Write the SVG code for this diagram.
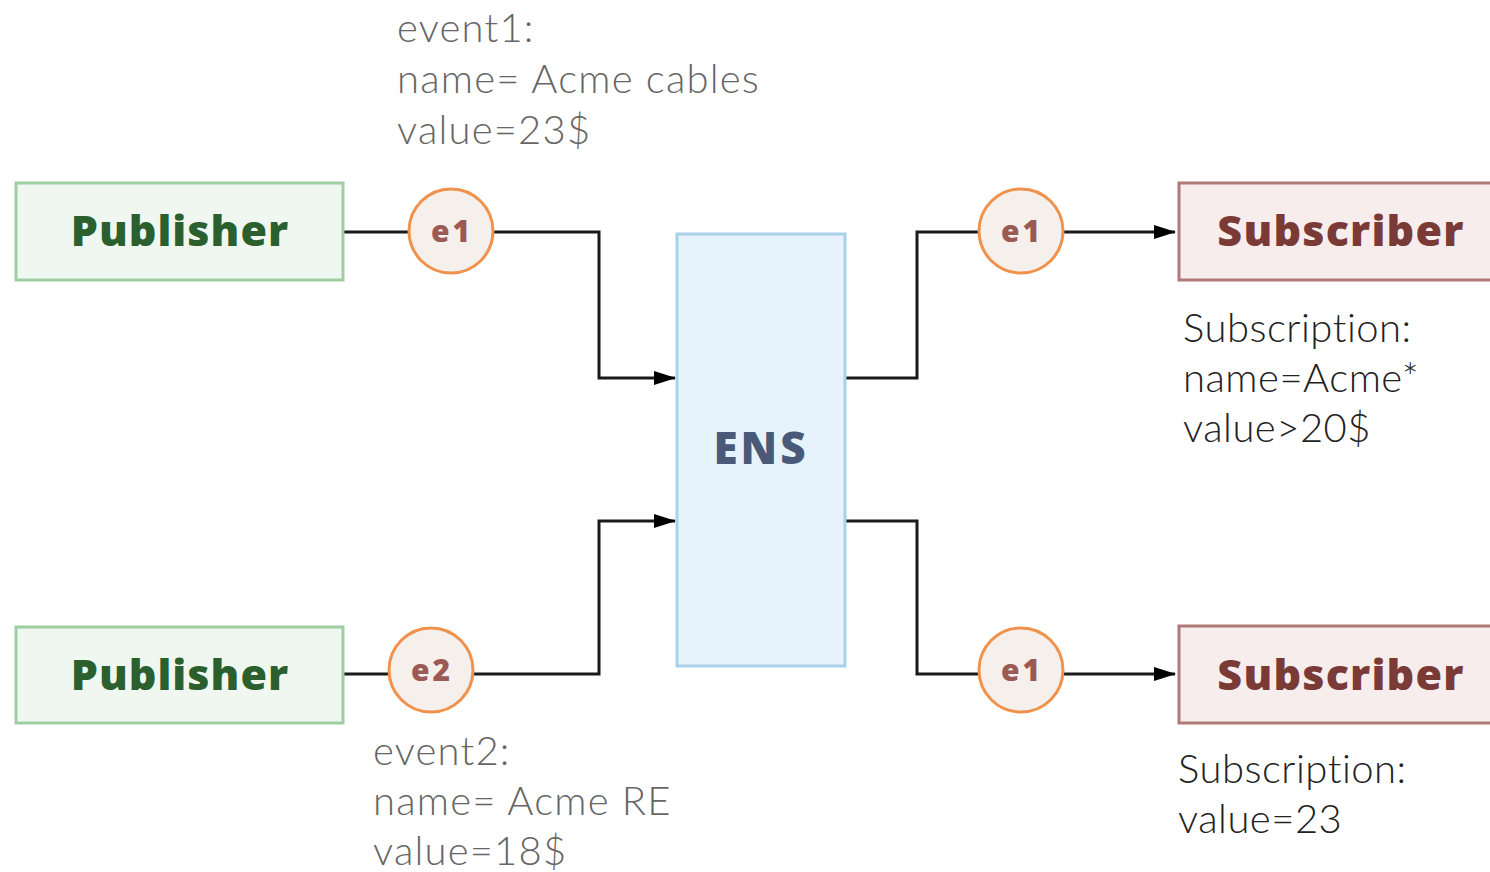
<svg xmlns="http://www.w3.org/2000/svg" width="1490" height="872" viewBox="0 0 1490 872">
<defs>
<marker id="arr" markerWidth="22" markerHeight="16" refX="21" refY="8" orient="auto" markerUnits="userSpaceOnUse">
<path d="M0,1 L22,8 L0,15 z" fill="#000"/>
</marker>
<style>
.pub rect{fill:#eff7f0;stroke:#9fcea3;stroke-width:3}
.pub text{font-family:"Open Sans","Liberation Sans",sans-serif;font-weight:800;font-size:43px;letter-spacing:1px;fill:#2c5f2e;text-anchor:middle}
.sub rect{fill:#f7eded;stroke:#b07a78;stroke-width:3}
.sub text{font-family:"Open Sans","Liberation Sans",sans-serif;font-weight:800;font-size:43px;letter-spacing:1.2px;fill:#7a3b37;text-anchor:middle}
.ev circle{fill:#f6f0ec;stroke:#f0924c;stroke-width:3}
.ev text{font-family:"Open Sans","Liberation Sans",sans-serif;font-weight:800;font-size:30px;letter-spacing:3px;fill:#9c5a55;text-anchor:middle}
.ens rect{fill:#e6f3fc;stroke:#a9d2e8;stroke-width:3}
.ens text{font-family:"Open Sans","Liberation Sans",sans-serif;font-weight:800;font-size:44px;letter-spacing:3px;fill:#485a78;text-anchor:middle}
.conn path{fill:none;stroke:#1a1a1a;stroke-width:3}
.note{font-family:"Lato","Open Sans","Liberation Sans",sans-serif;font-weight:300;font-size:40px}
.grey{fill:#666;letter-spacing:1.2px}
.dark{fill:#222;letter-spacing:0.5px}
</style>
</defs>
<rect width="1490" height="872" fill="#fff"/>
<g id="connectors" class="conn">
<path d="M343,232 H599 V378 H675" marker-end="url(#arr)"/>
<path d="M343,674 H599 V521 H675" marker-end="url(#arr)"/>
<path d="M845,378 H917 V232 H1175" marker-end="url(#arr)"/>
<path d="M845,521 H917 V674 H1175" marker-end="url(#arr)"/>
</g>
<g id="publisher1" class="pub"><rect x="16" y="183" width="327" height="97"/><text x="180" y="246">Publisher</text></g>
<g id="publisher2" class="pub"><rect x="16" y="627" width="327" height="96"/><text x="180" y="690">Publisher</text></g>
<g id="ens" class="ens"><rect x="677" y="234" width="168" height="432"/><text x="761" y="464">ENS</text></g>
<g id="subscriber1" class="sub"><rect x="1179" y="183" width="320" height="97"/><text x="1341" y="246">Subscriber</text></g>
<g id="subscriber2" class="sub"><rect x="1179" y="626" width="320" height="97"/><text x="1341" y="690">Subscriber</text></g>
<g id="e1a" class="ev"><circle cx="451" cy="231" r="42"/><text x="452" y="242">e1</text></g>
<g id="e2" class="ev"><circle cx="431" cy="670" r="42"/><text x="432" y="681">e2</text></g>
<g id="e1b" class="ev"><circle cx="1021" cy="231" r="42"/><text x="1022" y="242">e1</text></g>
<g id="e1c" class="ev"><circle cx="1021" cy="670" r="42"/><text x="1022" y="681">e1</text></g>
<g id="event1-label" class="note grey">
<text x="397" y="42">event1:</text>
<text x="397" y="93">name= Acme cables</text>
<text x="397" y="144">value=23$</text>
</g>
<g id="event2-label" class="note grey">
<text x="373" y="765">event2:</text>
<text x="373" y="815">name= Acme RE</text>
<text x="373" y="865">value=18$</text>
</g>
<g id="sub1-label" class="note dark">
<text x="1183" y="342">Subscription:</text>
<text x="1183" y="392">name=Acme*</text>
<text x="1183" y="442">value&gt;20$</text>
</g>
<g id="sub2-label" class="note dark">
<text x="1178" y="783">Subscription:</text>
<text x="1178" y="833">value=23</text>
</g>
</svg>
